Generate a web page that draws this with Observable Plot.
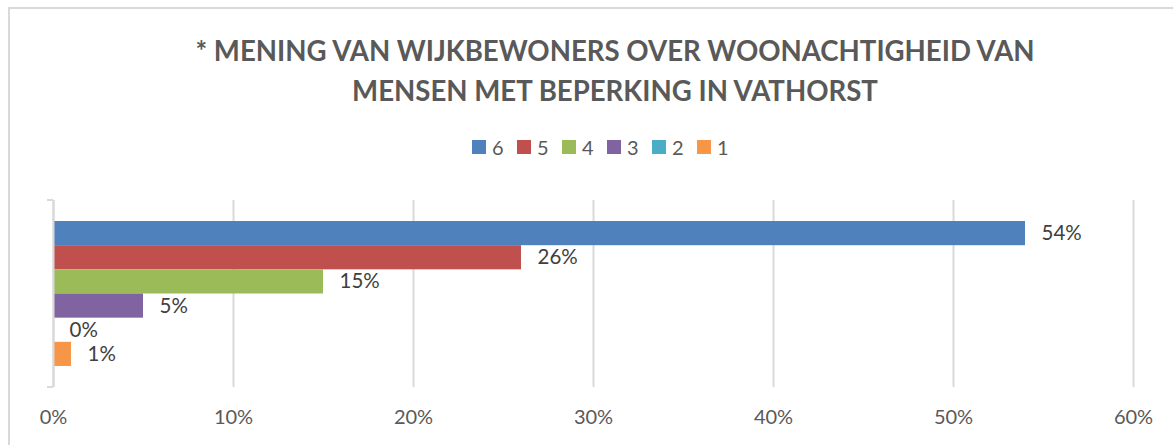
<!DOCTYPE html>
<html>
<head>
<meta charset="utf-8">
<script src="https://cdn.jsdelivr.net/npm/d3@7"></script>
<script src="https://cdn.jsdelivr.net/npm/@observablehq/plot@0.6"></script>
<style>
  html, body { margin: 0; padding: 0; background: #fff; overflow: hidden; }
  #root { position: relative; width: 1173px; height: 445px; font-family: Lato, "Open Sans", sans-serif; }
  #frame { position: absolute; left: 8px; top: 7px; width: 1200px; height: 500px; border: 2px solid #d9d9d9; box-sizing: border-box; }
  #title { position: absolute; left: 0; width: 1230px; top: 31px; text-align: center; font-weight: 700; font-size: 27.6px; line-height: 40px; color: #595959; }
  #legend { position: absolute; left: 0; width: 1214px; top: 135px; display: flex; justify-content: center; gap: 0; font-size: 20px; color: #595959; }
  .item { display: flex; align-items: center; width: 45px; }
  .sw { width: 14px; height: 14px; margin-right: 6px; }
  #chart { position: absolute; left: 0; top: 180px; line-height: 0; }
</style>
</head>
<body>
<div id="root">
  <div id="frame"></div>
  <div id="title">* MENING VAN WIJKBEWONERS OVER WOONACHTIGHEID VAN<br>MENSEN MET BEPERKING IN VATHORST</div>
  <div id="legend"></div>
  <div id="chart"></div>
</div>
<script>
const categories = ["6", "5", "4", "3", "2", "1"];
const values = [0.54, 0.26, 0.15, 0.05, 0.00, 0.01];
const colors = ["#4f81bd", "#c0504d", "#9bbb59", "#8064a2", "#4bacc6", "#f79646"];
const xTicks = [0, 0.1, 0.2, 0.3, 0.4, 0.5, 0.6];

const data = categories.map((c, i) => ({cat: c, value: values[i]}));
const pct = d3.format(".0%");

// legend
const legend = document.getElementById("legend");
categories.forEach((c, i) => {
  const it = document.createElement("div");
  it.className = "item";
  const sw = document.createElement("span");
  sw.className = "sw";
  sw.style.background = colors[i];
  const t = document.createElement("span");
  t.textContent = c;
  it.appendChild(sw); it.appendChild(t);
  legend.appendChild(it);
});

const bracket = (index, scales, values, dims) => {
  const top = dims.marginTop, bottom = dims.height - dims.marginBottom, x0 = dims.marginLeft;
  const g = d3.create("svg:path")
    .attr("d", `M${x0 - 6},${top}H${x0}M${x0 - 6},${bottom}H${x0}`)
    .attr("stroke", "#d9d9d9").attr("stroke-width", 2).attr("fill", "none");
  return g.node();
};

const chart = Plot.plot({
  width: 1173,
  height: 265,
  marginLeft: 53,
  marginRight: 40,
  marginTop: 20,
  marginBottom: 58,
  style: {fontFamily: "Lato, 'Open Sans', sans-serif", fontSize: "20px", background: "transparent"},
  x: {domain: [0, 0.6], label: null},
  y: {domain: categories, paddingInner: 0, paddingOuter: 0.87, round: false, axis: null},
  color: {domain: categories, range: colors},
  marks: [
    Plot.gridX(xTicks, {stroke: "#d9d9d9", strokeOpacity: 1, strokeWidth: 2}),
    Plot.axisX({ticks: xTicks, tickFormat: pct, tickSize: 0, tickPadding: 22, fill: "#595959", fontSize: 20, label: null}),
    Plot.barX(data, {x: "value", y: "cat", fill: "cat", insetTop: 0, insetBottom: 0}),
    Plot.ruleX([0], {stroke: "#d9d9d9", strokeWidth: 2}),
    bracket,
    Plot.text(data, {x: "value", y: "cat", text: d => pct(d.value), textAnchor: "start", dx: 16, fill: "#404040", fontSize: 20.5})
  ]
});
document.getElementById("chart").appendChild(chart);
</script>
</body>
</html>
